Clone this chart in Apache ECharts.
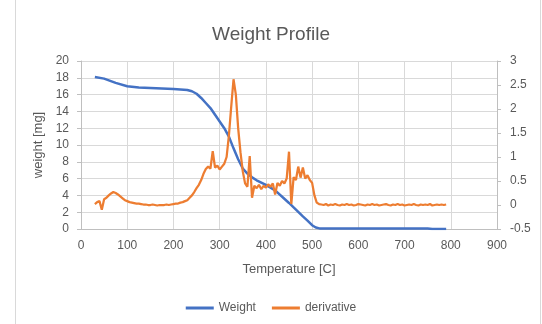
<!DOCTYPE html>
<html>
<head>
<meta charset="utf-8">
<script src="https://cdn.jsdelivr.net/npm/echarts@6/dist/echarts.min.js"></script>
<style>
html,body{margin:0;padding:0;background:#fff;}
#c{width:542px;height:324px;}
</style>
</head>
<body>
<div id="c"></div>
<script>
// Weight curve (temperature in C, weight in mg)
var weightTemps = [30, 50, 75, 100, 125, 150, 200, 230, 240, 250, 260, 270, 280, 290, 300, 310, 320, 330, 340, 350, 360, 370, 380, 400, 420, 450, 480, 490, 500, 508, 516, 530, 600, 750, 760, 790];
var weights     = [18.1, 17.9, 17.4, 17.0, 16.85, 16.78, 16.68, 16.55, 16.4, 16.1, 15.6, 15.0, 14.4, 13.6, 12.8, 12.0, 11.0, 9.6, 8.3, 7.2, 6.6, 6.15, 5.8, 5.25, 4.6, 3.1, 1.5, 1.0, 0.45, 0.18, 0.07, 0.05, 0.05, 0.05, 0.0, 0.0];

// Derivative curve, sampled every 5 C from 30 C
var derivStart = 30;
var derivStep = 5;
var derivative = [
  0.02, 0.06, 0.08, -0.10, 0.12, 0.15, 0.20, 0.24, 0.27, 0.25,
  0.22, 0.18, 0.14, 0.10, 0.08, 0.06, 0.05, 0.04, 0.03, 0.03,
  0.02, 0.01, 0.01, 0.00, 0.00, 0.01, 0.00, -0.01, 0.00, 0.00,
  0.00, 0.01, 0.00, 0.01, 0.02, 0.03, 0.03, 0.05, 0.06, 0.08,
  0.10, 0.15, 0.20, 0.27, 0.35, 0.42, 0.52, 0.65, 0.75, 0.80,
  0.76, 1.12, 0.78, 0.82, 0.74, 0.80, 0.86, 1.00, 1.45, 2.05,
  2.62, 2.30, 1.60, 1.10, 0.70, 0.45, 0.38, 1.02, 0.15, 0.40,
  0.35, 0.42, 0.33, 0.40, 0.36, 0.43, 0.38, 0.45, 0.22, 0.46,
  0.40, 0.50, 0.45, 0.55, 1.11, 0.02, 0.58, 0.52, 0.80, 0.57,
  0.78, 0.55, 0.62, 0.52, 0.46, 0.20, 0.05, 0.02,
  0.01, 0.00, 0.02, -0.01, 0.01, 0.00, 0.02, 0.00, -0.01, 0.01,
  0.00, 0.02, 0.00, 0.01, -0.01, 0.00, 0.02, 0.01, 0.00, -0.01,
  0.01, 0.00, 0.02, 0.00, 0.01, -0.01, 0.00, 0.01, 0.02, 0.00,
  -0.01, 0.01, 0.00, 0.02, 0.00, 0.01, -0.01, 0.00, 0.01, 0.00,
  0.02, 0.00, -0.01, 0.01, 0.00, 0.01, 0.00, 0.02, -0.01, 0.00,
  0.01, 0.00, 0.01, 0.00, 0.01
];

var title = 'Weight Profile';
var xName = 'Temperature [C]';
var yLeftName = 'weight [mg]';
var seriesNames = ['Weight', 'derivative'];

var weightData = weightTemps.map(function (t, i) { return [t, weights[i]]; });
var derivData = derivative.map(function (v, i) { return [derivStart + i * derivStep, v]; });

var txt = '#595959';
var font = 'Liberation Sans';
var chart = echarts.init(document.getElementById('c'), null, {renderer: 'canvas'});
chart.setOption({
  animation: false,
  backgroundColor: '#fff',
  textStyle: {fontFamily: font},
  title: {
    text: title, left: 'center', top: 20,
    textStyle: {fontFamily: font, fontSize: 19, fontWeight: 'normal', color: txt}
  },
  grid: {left: 81, right: 45, top: 61, bottom: 95},
  legend: {
    bottom: 5, left: 'center',
    itemWidth: 28, itemHeight: 3, itemGap: 16, icon: 'rect',
    textStyle: {fontFamily: font, fontSize: 12, color: txt},
    data: seriesNames
  },
  xAxis: {
    type: 'value', min: 0, max: 900, interval: 100,
    name: xName, nameLocation: 'middle', nameGap: 34,
    nameTextStyle: {fontFamily: font, fontSize: 13, color: txt},
    axisLine: {show: true, lineStyle: {color: '#bfbfbf'}},
    axisTick: {show: false},
    axisLabel: {color: txt, fontSize: 12, margin: 11},
    splitLine: {show: true, lineStyle: {color: '#d9d9d9'}}
  },
  yAxis: [{
    type: 'value', min: 0, max: 20, interval: 2,
    name: yLeftName, nameLocation: 'middle', nameGap: 29, nameRotate: 90,
    nameTextStyle: {fontFamily: font, fontSize: 13, color: txt},
    axisLine: {show: true, lineStyle: {color: '#bfbfbf'}},
    axisTick: {show: true, inside: false, length: 4, lineStyle: {color: '#bfbfbf'}},
    axisLabel: {color: txt, fontSize: 12, margin: 12},
    splitLine: {show: true, lineStyle: {color: '#d9d9d9'}}
  }, {
    type: 'value', min: -0.5, max: 3, interval: 0.5, position: 'right',
    axisLine: {show: true, lineStyle: {color: '#bfbfbf'}},
    axisTick: {show: true, inside: false, length: 4, lineStyle: {color: '#bfbfbf'}},
    axisLabel: {color: txt, fontSize: 12, margin: 13},
    splitLine: {show: false}
  }],
  graphic: [
    {type: 'line', shape: {x1: 15.5, y1: 0, x2: 15.5, y2: 324}, style: {stroke: '#d9d9d9', lineWidth: 1}},
    {type: 'line', shape: {x1: 540.5, y1: 0, x2: 540.5, y2: 324}, style: {stroke: '#d9d9d9', lineWidth: 1}}
  ],
  series: [{
    name: seriesNames[0], type: 'line', yAxisIndex: 0, data: weightData,
    showSymbol: false, symbol: 'none', smooth: false,
    lineStyle: {color: '#4472C4', width: 2.5, join: 'round'}, itemStyle: {color: '#4472C4'}
  }, {
    name: seriesNames[1], type: 'line', yAxisIndex: 1, data: derivData,
    showSymbol: false, symbol: 'none',
    lineStyle: {color: '#ED7D31', width: 2.25}, itemStyle: {color: '#ED7D31'}
  }]
});
</script>
</body>
</html>
